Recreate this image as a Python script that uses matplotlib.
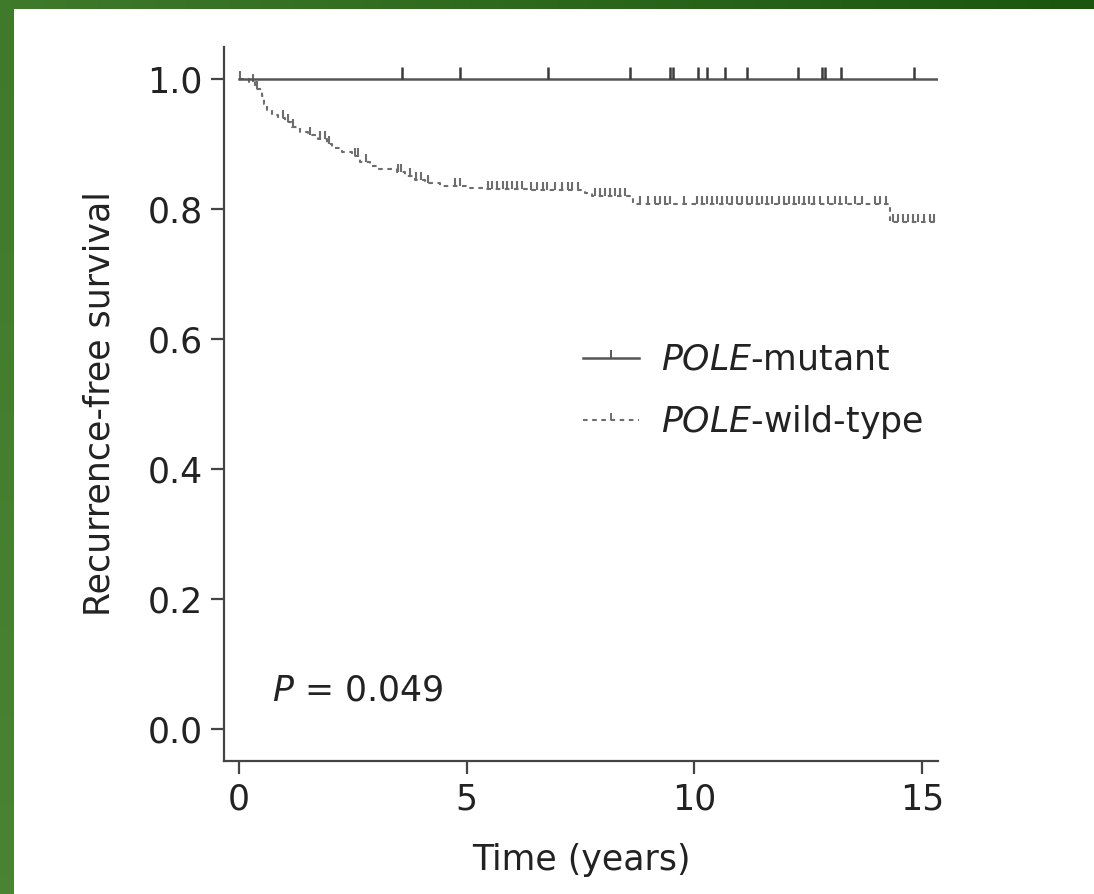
import numpy as np
import matplotlib
matplotlib.use("Agg")
import matplotlib.pyplot as plt
from matplotlib.path import Path
from matplotlib.lines import Line2D
from matplotlib.colors import LinearSegmentedColormap

# POLE-wild-type: event times (years) and survival after each event
wt_event_times = [0.22, 0.35, 0.51, 0.55, 0.61, 0.72, 0.86, 1.01, 1.16, 1.34,
                  1.52, 1.74, 1.93, 2.04, 2.26, 2.48, 2.66, 2.88, 3.05, 3.47,
                  3.65, 3.87, 4.09, 4.41, 5.07, 5.40, 6.35, 7.60, 7.75, 8.65,
                  14.30]
wt_survival = [0.995, 0.985, 0.974, 0.962, 0.952, 0.945, 0.940, 0.933, 0.926, 0.918,
               0.914, 0.908, 0.900, 0.893, 0.888, 0.882, 0.872, 0.866, 0.862, 0.856,
               0.850, 0.845, 0.839, 0.835, 0.832, 0.831, 0.829, 0.825, 0.820, 0.808,
               0.780]
wt_censored = [0.03, 0.31, 0.40, 0.97, 1.08, 1.19, 1.56, 1.78, 1.89, 1.98,
               2.55, 2.62, 2.79, 3.49, 3.56, 3.76, 3.89, 4.00, 4.15, 4.74,
               4.85, 5.47, 5.56, 5.67, 5.80, 5.89, 6.00, 6.11, 6.22, 6.40,
               6.55, 6.68, 6.76, 6.94, 7.09, 7.23, 7.31, 7.44, 7.82, 7.93,
               8.04, 8.15, 8.26, 8.37, 8.48, 8.81, 8.98, 9.14, 9.25, 9.36,
               9.47, 9.77, 10.06, 10.17, 10.28, 10.39, 10.50, 10.61, 10.72, 10.83,
               10.94, 11.05, 11.16, 11.27, 11.38, 11.49, 11.60, 11.71, 11.86, 11.97,
               12.08, 12.19, 12.30, 12.41, 12.52, 12.63, 12.76, 12.93, 13.09, 13.20,
               13.33, 13.53, 13.68, 13.97, 14.08, 14.21, 14.36, 14.47, 14.58, 14.69,
               14.80, 14.91, 15.04, 15.18, 15.27]
wt_end = 15.30

# POLE-mutant: no events, censored only
mut_censored = [3.58, 4.85, 6.79, 8.59, 9.47, 9.53, 10.08, 10.28, 10.67, 11.16,
                12.28, 12.80, 12.87, 13.22, 14.83]
mut_end = 15.35

p_text = "$P$ = 0.049"

plt.rcParams['font.family'] = ['DejaVu Sans']
plt.rcParams['mathtext.fontset'] = 'custom'
plt.rcParams['mathtext.rm'] = 'DejaVu Sans'
plt.rcParams['mathtext.it'] = 'DejaVu Sans:italic'
fs = 25
axcol = '#444444'
txtcol = '#222222'

# upward censor tick
tick = Path([(0, 0), (0, 1)])

fig = plt.figure(figsize=(10.94, 8.94), dpi=100)

# green frame on left and top
cm_l = LinearSegmentedColormap.from_list('l', ['#3f7a2b', '#4a8432'])
cm_t = LinearSegmentedColormap.from_list('t', ['#3f7a2b', '#1a560d'])
band = fig.add_axes([0, 0, 14 / 1094, 1])
band.imshow(np.linspace(0, 1, 50).reshape(-1, 1), aspect='auto', cmap=cm_l)
band.axis('off')
band = fig.add_axes([0, 1 - 9 / 894, 1, 9 / 894])
band.imshow(np.linspace(0, 1, 100).reshape(1, -1), aspect='auto', cmap=cm_t)
band.axis('off')

ax = fig.add_axes([0.2048, 0.1488, 0.6527, 0.7987])

# wild-type KM step curve
t = np.concatenate([[0.0], wt_event_times, [wt_end]])
s = np.concatenate([[1.0], wt_survival, [wt_survival[-1]]])
wt_color = '#6e6e6e'
ax.step(t, s, where='post', color=wt_color, lw=1.5, ls=(0, (2.2, 2.2)))
cy = s[np.searchsorted(t, wt_censored, side='right') - 1]
ax.plot(wt_censored, cy, ls='none', marker=tick, ms=12, mew=1.5, color=wt_color)

# mutant flat line
mut_color = '#555555'
ax.plot([0, mut_end], [1.0, 1.0], color=mut_color, lw=1.8)
ax.plot(mut_censored, np.ones(len(mut_censored)), ls='none', marker=tick,
        ms=17, mew=1.8, color='#3a3a3a')

ax.set_xlim(-0.33, 15.35)
ax.set_ylim(-0.049, 1.049)
ax.set_xticks([0, 5, 10, 15])
ax.set_yticks([0.0, 0.2, 0.4, 0.6, 0.8, 1.0])
ax.set_yticklabels(['0.0', '0.2', '0.4', '0.6', '0.8', '1.0'])
ax.spines['top'].set_visible(False)
ax.spines['right'].set_visible(False)
for sp in ['left', 'bottom']:
    ax.spines[sp].set_color(axcol)
    ax.spines[sp].set_linewidth(1.6)
ax.tick_params(axis='both', direction='out', length=9.5, width=1.6, color=axcol,
               labelsize=fs, labelcolor=txtcol, pad=6)

ax.set_xlabel('Time (years)', fontsize=fs, color=txtcol)
ax.xaxis.set_label_coords(0.5, -0.115)
ax.xaxis.label.set_verticalalignment('top')
ax.set_ylabel('Recurrence-free survival', fontsize=fs, color=txtcol)
ax.yaxis.set_label_coords(-0.15, 0.5)

ax.text(0.72, 0.06, p_text, fontsize=fs, color=txtcol, ha='left', va='center')

handles = [Line2D([], [], color=mut_color, lw=1.8, marker=tick, ms=12, mew=1.4),
           Line2D([], [], color=wt_color, lw=1.5, ls=(0, (2.2, 2.2)), marker=tick,
                  ms=10, mew=1.4)]
labels = ['$POLE$-mutant', '$POLE$-wild-type']
leg = ax.legend(handles, labels, loc='center left', bbox_to_anchor=(0.503, 0.517),
                frameon=False, fontsize=fs, numpoints=1, handlelength=1.6,
                handletextpad=0.65, borderpad=0, borderaxespad=0, labelspacing=0.75)
for txt in leg.get_texts():
    txt.set_color(txtcol)

fig.savefig('out.png', dpi=100)
plt.close()
